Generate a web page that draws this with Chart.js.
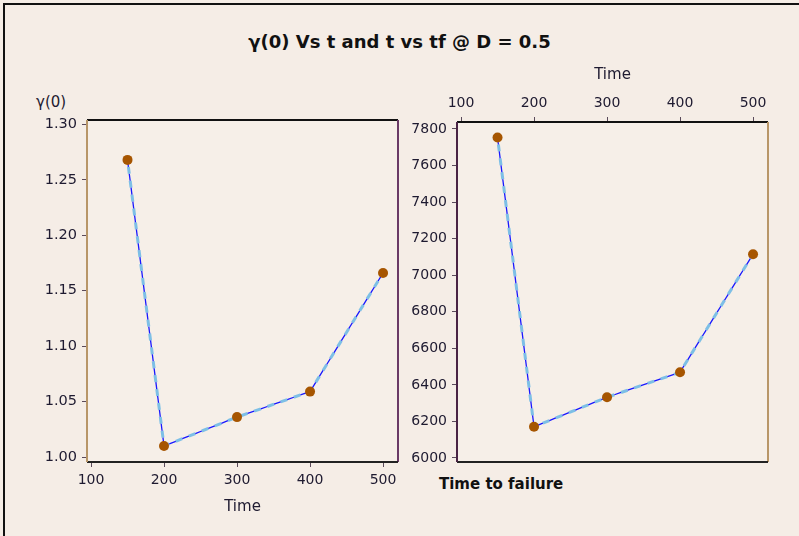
<!DOCTYPE html>
<html>
<head>
<meta charset="utf-8">
<script src="https://cdn.jsdelivr.net/npm/chart.js@4.4.1/dist/chart.umd.min.js"></script>
<style>
  html, body { margin: 0; padding: 0; }
  body {
    width: 799px; height: 536px; position: relative; overflow: hidden;
    background: #f5ede6; font-family: "DejaVu Sans", sans-serif; color: #1e1a30;
  }
  #frame {
    position: absolute; left: 3px; top: 3px; width: 810px; height: 560px;
    border-top: 2px solid #111; border-left: 2px solid #111;
  }
  canvas { position: absolute; }
  #left { left: 20px; top: 85px; }
  #right { left: 395px; top: 50px; }
  .lbl { position: absolute; white-space: nowrap; }
  #title { left: 0; width: 799px; top: 31px; text-align: center; font-weight: bold; font-size: 18px; color: #111; }
  #gammaLbl { left: 36px; top: 93px; font-size: 15px; }
  #ttfLbl { left: 439px; top: 475px; font-size: 15px; font-weight: bold; color: #111; }
</style>
</head>
<body>
<div id="frame"></div>
<div class="lbl" id="title">γ(0) Vs t and t vs tf @ D = 0.5</div>
<div class="lbl" id="gammaLbl">γ(0)</div>
<div class="lbl" id="ttfLbl">Time to failure</div>
<canvas id="left" width="400" height="451"></canvas>
<canvas id="right" width="404" height="486"></canvas>
<script>
// values
var time = [150, 200, 300, 400, 500];
var gamma0 = [1.268, 1.010, 1.036, 1.059, 1.166];
var timeToFailure = [7753, 6171, 6332, 6469, 7115];

var timeTicks = [100, 200, 300, 400, 500];
var gammaTicks = [1.00, 1.05, 1.10, 1.15, 1.20, 1.25, 1.30];
var ttfTicks = [6000, 6200, 6400, 6600, 6800, 7000, 7200, 7400, 7600, 7800];

var FONT = "DejaVu Sans";
var TEXT = '#1e1a30';

function pts(xs, ys) {
    return xs.map(function (x, i) { return { x: x, y: ys[i] }; });
}

function setTicks(list) {
    return function (scale) {
        scale.ticks = list.map(function (v) { return { value: v }; });
    };
}

// plot box background + four coloured edges
const panelFrame = {
    id: 'panelFrame',
    beforeDraw(chart, args, o) {
        const ctx = chart.ctx, a = chart.chartArea;
        ctx.save();
        ctx.fillStyle = o.fill;
        ctx.fillRect(a.left, a.top, a.right - a.left, a.bottom - a.top);
        ctx.restore();
    },
    afterDraw(chart, args, o) {
        const ctx = chart.ctx, a = chart.chartArea;
        ctx.save();
        ctx.lineWidth = 2;
        var edges = [
            [o.top, a.left, a.top, a.right, a.top],
            [o.right, a.right, a.top, a.right, a.bottom],
            [o.bottom, a.left, a.bottom, a.right, a.bottom],
            [o.left, a.left, a.top, a.left, a.bottom]
        ];
        edges.forEach(function (e) {
            ctx.strokeStyle = e[0];
            ctx.beginPath();
            ctx.moveTo(e[1], e[2]);
            ctx.lineTo(e[3], e[4]);
            ctx.stroke();
        });
        ctx.restore();
    }
};

function lineSets(data) {
    return [
        {
            data: data,
            borderColor: '#1818ff',
            borderWidth: 1.3,
            borderDash: [7, 7],
            pointRadius: 5,
            pointBackgroundColor: '#a65500',
            pointBorderColor: '#a65500',
            pointBorderWidth: 0
        },
        {
            data: data,
            borderColor: '#7dbfe6',
            borderWidth: 3,
            borderDash: [7, 7],
            borderDashOffset: 7,
            pointRadius: 0
        }
    ];
}

function axisGrid() {
    return { display: true, drawOnChartArea: false, drawTicks: true, tickLength: 5, color: '#5a4a5a' };
}

// left panel: gamma(0) vs time
new Chart(document.getElementById('left'), {
    type: 'line',
    data: { datasets: lineSets(pts(time, gamma0)) },
    options: {
        responsive: false,
        animation: false,
        layout: { padding: { top: 35, right: 22, left: 0, bottom: 0 } },
        plugins: {
            legend: { display: false },
            tooltip: { enabled: false },
            panelFrame: { fill: '#f6efe8', top: '#111111', right: '#6a3a66', bottom: '#222222', left: '#b89668' }
        },
        scales: {
            x: {
                type: 'linear', position: 'bottom', min: 94.5, max: 520.5,
                afterBuildTicks: setTicks(timeTicks),
                afterFit: function (s) { s.height = 74; },
                grid: axisGrid(), border: { display: false },
                ticks: { font: { family: FONT, size: 14 }, color: TEXT, padding: 5, maxRotation: 0 },
                title: { display: true, text: 'Time', color: TEXT, font: { family: FONT, size: 15 }, padding: { top: 0, bottom: 20 } }
            },
            y: {
                type: 'linear', min: 0.9955, max: 1.304,
                afterBuildTicks: setTicks(gammaTicks),
                afterFit: function (s) { s.width = 67; },
                grid: axisGrid(), border: { display: false },
                ticks: { font: { family: FONT, size: 14.5 }, color: TEXT, padding: 5,
                    callback: function (v) { return v.toFixed(2); } }
            }
        }
    },
    plugins: [panelFrame]
});

// right panel: time to failure vs time
new Chart(document.getElementById('right'), {
    type: 'line',
    data: { datasets: lineSets(pts(time, timeToFailure)) },
    options: {
        responsive: false,
        animation: false,
        layout: { padding: { top: 0, right: 31, left: 0, bottom: 74 } },
        plugins: {
            legend: { display: false },
            tooltip: { enabled: false },
            panelFrame: { fill: '#f6efe8', top: '#111111', right: '#b89668', bottom: '#222222', left: '#4a2444' }
        },
        scales: {
            x: {
                type: 'linear', position: 'top', min: 94.5, max: 520.5,
                afterBuildTicks: setTicks(timeTicks),
                afterFit: function (s) { s.height = 72; },
                grid: axisGrid(), border: { display: false },
                ticks: { font: { family: FONT, size: 14 }, color: TEXT, padding: 5, maxRotation: 0 },
                title: { display: true, text: 'Time', color: TEXT, font: { family: FONT, size: 15 }, padding: { top: 16, bottom: 0 } }
            },
            y: {
                type: 'linear', min: 5978, max: 7838,
                afterBuildTicks: setTicks(ttfTicks),
                afterFit: function (s) { s.width = 62; },
                grid: axisGrid(), border: { display: false },
                ticks: { font: { family: FONT, size: 14 }, color: TEXT, padding: 5,
                    callback: function (v) { return String(v); } }
            }
        }
    },
    plugins: [panelFrame]
});
</script>
</body>
</html>
